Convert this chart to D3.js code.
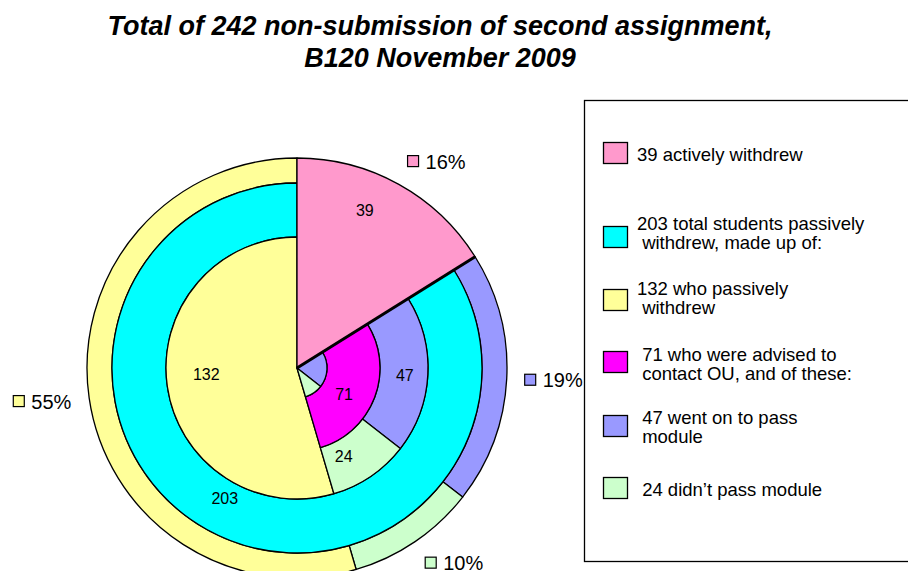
<!DOCTYPE html>
<html>
<head>
<meta charset="utf-8">
<script src="https://cdn.jsdelivr.net/npm/d3@7"></script>
<style>
  body { margin: 0; background: #fff; }
  svg text { font-family: "Liberation Sans", Arial, Helvetica, sans-serif; white-space: pre; }
</style>
</head>
<body>
<div class="chart"></div>
<script>
// counts out of 242 non-submissions
const total = 242;
const categories = ["active", "passiveTotal", "passive", "advised", "passed", "failed"];
const counts = [39, 203, 132, 71, 47, 24];
// outer ring, clockwise from 12 o'clock
const outerKeys = ["active", "passed", "failed", "passive"];
const legendLines = [
  ["39 actively withdrew"],
  ["203 total students passively", " withdrew, made up of:"],
  ["132 who passively", " withdrew"],
  [" 71 who were advised to", " contact OU, and of these:"],
  [" 47 went on to pass", " module"],
  [" 24 didn\u2019t pass module"]
];
const titleLines = ["Total of 242 non-submission of second assignment,", "B120 November 2009"];

const count = {};
categories.forEach((c, i) => count[c] = counts[i]);

const color = d3.scaleOrdinal()
  .domain(categories)
  .range(["#ff99cc", "#00ffff", "#ffff99", "#ff00ff", "#9999ff", "#ccffcc"]);

const width = 908, height = 571;
const cx = 297, cy = 368;
const R = 210, rCyan = 185, rInner = 131, rMag = 83, rCore = 30;

const svg = d3.select(".chart").append("svg")
  .attr("width", width)
  .attr("height", height);

svg.append("g").selectAll("text")
  .data(titleLines)
  .join("text")
  .attr("x", 440)
  .attr("y", (d, i) => 35 + i * 32)
  .attr("text-anchor", "middle")
  .attr("font-size", "27px")
  .attr("font-weight", "bold")
  .attr("font-style", "italic")
  .text(d => d);

// angle from cumulative count
const angle = d3.scaleLinear().domain([0, total]).range([0, 2 * Math.PI]);

// cumulative spans (in counts) for every piece
const a0 = count.active;
const span = {
  active: [0, a0],
  passiveTotal: [a0, a0 + count.passiveTotal],
  advised: [a0, a0 + count.advised],
  passed: [a0, a0 + count.passed],
  failed: [a0 + count.passed, a0 + count.passed + count.failed],
  passive: [a0 + count.advised, a0 + count.advised + count.passive]
};

const layers = [
  { key: "passed", r0: rCyan, r1: R },
  { key: "failed", r0: rCyan, r1: R },
  { key: "passive", r0: rCyan, r1: R },
  { key: "passiveTotal", r0: rInner, r1: rCyan },
  { key: "passive", r0: 0, r1: rInner },
  { key: "passed", r0: rMag, r1: rInner },
  { key: "failed", r0: rMag, r1: rInner },
  { key: "advised", r0: rCore, r1: rMag },
  { key: "passed", r0: 0, r1: rCore },
  { key: "failed", r0: 0, r1: rCore },
  { key: "active", r0: 0, r1: R }
].map(d => ({
  ...d,
  startAngle: angle(span[d.key][0]),
  endAngle: angle(span[d.key][1]),
  innerRadius: d.r0,
  outerRadius: d.r1
}));

const arc = d3.arc();
const pieG = svg.append("g").attr("transform", `translate(${cx},${cy})`);

pieG.selectAll("path")
  .data(layers)
  .join("path")
  .attr("d", arc)
  .attr("fill", d => color(d.key))
  .attr("stroke", "#000")
  .attr("stroke-width", 1.3)
  .attr("stroke-linejoin", "round");

// heavier edge between the active slice and the rest
const edge = angle(span.active[1]);
pieG.append("line")
  .attr("x1", 0).attr("y1", 0)
  .attr("x2", R * Math.sin(edge))
  .attr("y2", -R * Math.cos(edge))
  .attr("stroke", "#000")
  .attr("stroke-width", 3);

// value labels: radius and relative position inside the slice's span
const valueLabels = [
  { key: "active", r: 172, t: 0.40 },
  { key: "passiveTotal", r: 149, t: 0.50 },
  { key: "passive", r: 91, t: 0.52 },
  { key: "advised", r: 54, t: 0.58 },
  { key: "passed", r: 108, t: 0.51 },
  { key: "failed", r: 100, t: 0.68 }
];
pieG.selectAll(".val")
  .data(valueLabels)
  .join("text")
  .attr("class", "val")
  .attr("transform", d => {
    const [s, e] = span[d.key];
    const a = angle(s + (e - s) * d.t);
    return `translate(${d.r * Math.sin(a)},${-d.r * Math.cos(a)})`;
  })
  .attr("text-anchor", "middle")
  .attr("dy", "0.35em")
  .attr("font-size", "16px")
  .text(d => count[d.key]);

// percentage labels outside the outer ring, anchored at their nearest side
const pct = d3.format(".0%");
const labelR = 228;
const pctG = pieG.selectAll(".pct")
  .data(outerKeys)
  .join("g")
  .attr("class", "pct");
pctG.append("rect")
  .attr("x", 0).attr("y", -6)
  .attr("width", 11).attr("height", 11)
  .attr("fill", k => color(k))
  .attr("stroke", "#000")
  .attr("stroke-width", 1.2);
pctG.append("text")
  .attr("x", 18)
  .attr("y", 7)
  .attr("font-size", "20px")
  .text(k => pct(count[k] / total));
pctG.attr("transform", function (k) {
  const [s, e] = span[k];
  const a = angle((s + e) / 2);
  const ax = labelR * Math.sin(a), ay = -labelR * Math.cos(a);
  const w = 18 + d3.select(this).select("text").node().getComputedTextLength();
  const h = 16;
  const x = Math.sin(a) >= 0 ? ax : ax - w;
  const y = ay - Math.cos(a) * h / 2;
  return `translate(${x},${y})`;
});

// legend
const legend = svg.append("g");
legend.append("rect")
  .attr("x", 584.5).attr("y", 100.5)
  .attr("width", 400).attr("height", 461)
  .attr("fill", "#fff")
  .attr("stroke", "#000")
  .attr("stroke-width", 1.3);

const rowY = [153, 237, 300, 362, 426, 488];
const textY = [154, 233, 298, 364, 427, 489];
const items = legend.selectAll(".item")
  .data(categories)
  .join("g")
  .attr("class", "item");
items.append("rect")
  .attr("x", 603.5)
  .attr("y", (d, i) => rowY[i] - 10.5)
  .attr("width", 24)
  .attr("height", 21)
  .attr("fill", d => color(d))
  .attr("stroke", "#000")
  .attr("stroke-width", 1.3);
items.each(function (d, i) {
  const lines = legendLines[i];
  d3.select(this).selectAll("text")
    .data(lines)
    .join("text")
    .attr("x", 637)
    .attr("y", (l, j) => textY[i] - (lines.length - 1) * 9.75 + j * 19.5 + 6.5)
    .attr("font-size", "18.5px")
    .text(l => l);
});
</script>
</body>
</html>
